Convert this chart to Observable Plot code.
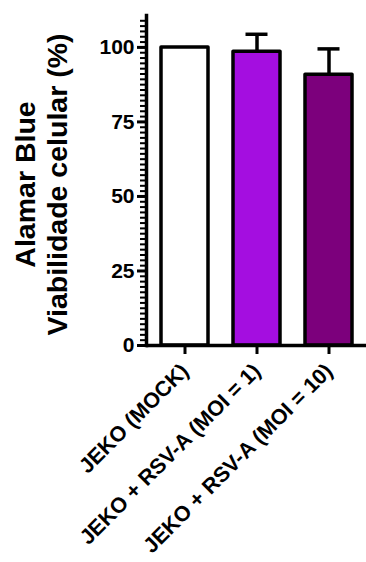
<!DOCTYPE html>
<html>
<head>
<meta charset="utf-8">
<script src="https://cdn.jsdelivr.net/npm/d3@7"></script>
<script src="https://cdn.jsdelivr.net/npm/@observablehq/plot@0.6"></script>
<style>
  html, body { margin: 0; padding: 0; background: #fff; }
  #chart svg { display: block; font-family: "Liberation Sans", Arial, sans-serif; }
</style>
</head>
<body>
<div id="chart"></div>
<script>
// Data
const categories = ["JEKO (MOCK)", "JEKO + RSV-A (MOI = 1)", "JEKO + RSV-A (MOI = 10)"];
const means = [100, 98.5, 90.8];
const errors = [0, 5.9, 8.7];
const fills = ["#ffffff", "#a40ee0", "#7c007c"];
const yTicks = [0, 25, 50, 75, 100];
const yTitle = "Alamar Blue\nViabilidade celular (%)";

const data = categories.map((c, i) => ({cat: c, mean: means[i], err: errors[i], fill: fills[i]}));
const errData = data.filter(d => d.err > 0);
const yMax = 110.7;
const minorTicks = d3.range(0, yMax + 0.01, 25 / 14);

const chart = Plot.plot({
  width: 366,
  height: 562,
  marginLeft: 146,
  marginRight: 0,
  marginTop: 15,
  marginBottom: 217,
  style: {fontFamily: "Liberation Sans, Arial, sans-serif", background: "#fff", color: "#000"},
  x: {type: "band", domain: categories, range: [146, 368], paddingInner: 0.342, paddingOuter: 0.192, label: null},
  y: {domain: [0, yMax], label: null},
  marks: [
    Plot.barY(data, {x: "cat", y: "mean", fill: "fill", stroke: "#000", strokeWidth: 3.5, strokeLinejoin: "round"}),
    Plot.ruleX(errData, {x: "cat", y1: "mean", y2: d => d.mean + d.err, stroke: "#000", strokeWidth: 3.5}),
    Plot.tickY(errData, {x: "cat", y: d => d.mean + d.err, stroke: "#000", strokeWidth: 3.5, insetLeft: 12.5, insetRight: 12.5}),
    Plot.axisY(minorTicks, {tickSize: 6, strokeWidth: 2, tickFormat: () => "", label: null}),
    Plot.axisY(yTicks, {tickSize: 9, strokeWidth: 3, tickPadding: 3, fontSize: 21, fontWeight: "bold", label: null}),
    Plot.axisX({tickSize: 9, strokeWidth: 3, tickPadding: 13, tickRotate: -45, fontSize: 21.5, fontWeight: "bold", label: null}),
    Plot.frame({anchor: "left", strokeWidth: 3.5}),
    Plot.ruleY([0], {strokeWidth: 3.5}),
    Plot.text([yTitle], {frameAnchor: "left", textAnchor: "middle", rotate: -90, dx: -106, dy: 4, fontSize: 28.5, fontWeight: "bold", lineHeight: 1.12, fill: "#000"})
  ]
});
document.getElementById("chart").appendChild(chart);
</script>
</body>
</html>
